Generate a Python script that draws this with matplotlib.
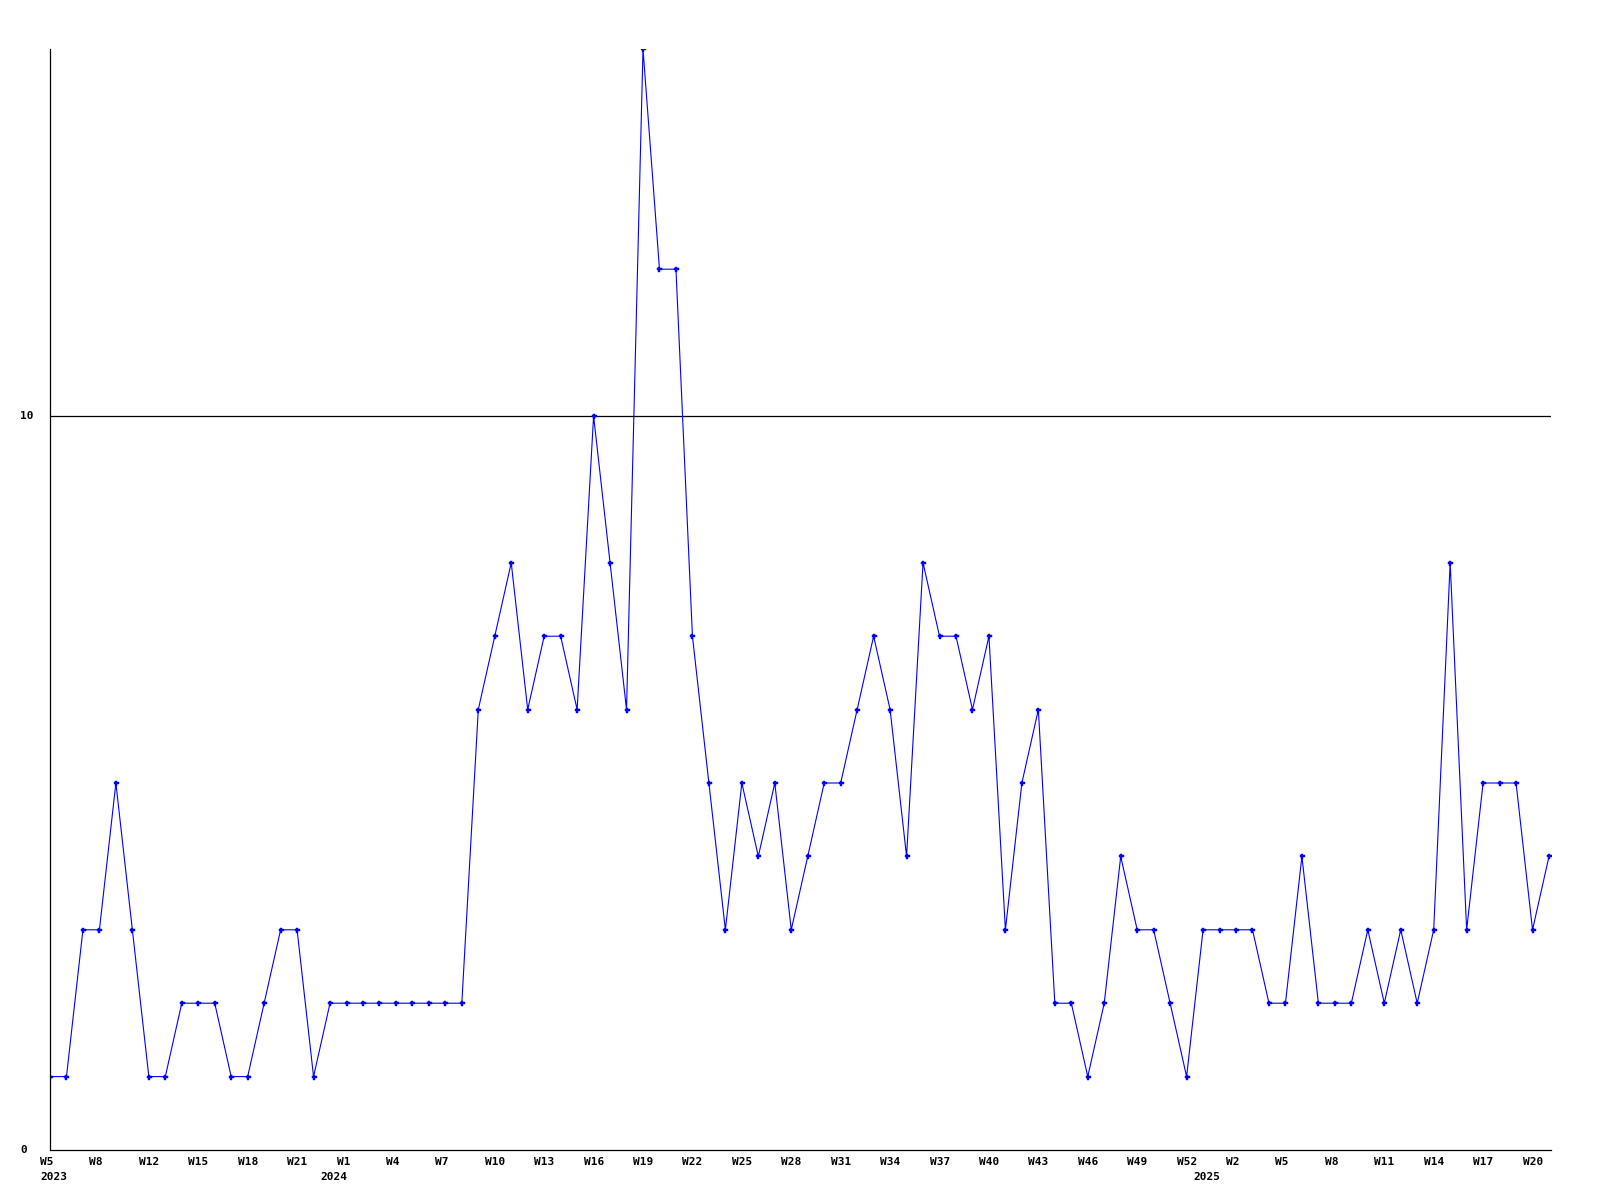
import matplotlib
matplotlib.use("Agg")
import matplotlib.pyplot as plt
import matplotlib.transforms as mtransforms

values = [1, 1, 3, 3, 5, 3, 1, 1, 2, 2, 2, 1, 1, 2, 3, 3, 1, 2, 2, 2,
          2, 2, 2, 2, 2, 2, 6, 7, 8, 6, 7, 7, 6, 10, 8, 6, 15, 12, 12, 7,
          5, 3, 5, 4, 5, 3, 4, 5, 5, 6, 7, 6, 4, 8, 7, 7, 6, 7, 3, 5,
          6, 2, 2, 1, 2, 4, 3, 3, 2, 1, 3, 3, 3, 3, 2, 2, 4, 2, 2, 2,
          3, 2, 3, 2, 3, 8, 3, 5, 5, 5, 3, 4]
week_labels = ["W5", "W8", "W12", "W15", "W18", "W21", "W1", "W4", "W7", "W10",
               "W13", "W16", "W19", "W22", "W25", "W28", "W31", "W34", "W37", "W40",
               "W43", "W46", "W49", "W52", "W2", "W5", "W8", "W11", "W14", "W17", "W20"]
week_positions = list(range(0, 91, 3))
year_labels = ["2023", "2024", "2025"]
year_positions = [0, 17, 70]
y_ticks = [0, 10]

W, H = 1600, 1200
fig = plt.figure(figsize=(16, 12), dpi=100)
ax = fig.add_axes([50 / W, 1 - 1150 / H, (1551 - 50) / W, (1150 - 49) / H])

x = list(range(len(values)))
ax.plot(x, values, color="#0000ff", linewidth=0.8, marker="P", markersize=3.6,
        markerfacecolor="#0000ff", markeredgecolor="#0000ff", markeredgewidth=0.3)

ax.set_xlim(0, (len(values) - 1) * 1501 / 1499)
ax.set_ylim(0, 15)

ax.axhline(10, color="black", linewidth=0.9, zorder=0)

for s in ["top", "right"]:
    ax.spines[s].set_visible(False)
for s in ["left", "bottom"]:
    ax.spines[s].set_linewidth(0.9)
    ax.spines[s].set_color("black")

ax.set_xticks([])
ax.set_yticks([])

font = dict(family="DejaVu Sans Mono", fontsize=8, fontweight="bold", color="black")

# y labels (left-aligned near the figure edge)
ytrans = mtransforms.blended_transform_factory(fig.transFigure, ax.transData)
for v in y_ticks:
    ax.text(20 / W, v, str(v), transform=ytrans, ha="left", va="center", clip_on=False, **font)

# week labels
off = mtransforms.ScaledTranslation(-10 / 100, 0, fig.dpi_scale_trans)
xtrans = mtransforms.blended_transform_factory(ax.transData, ax.transAxes) + off
for p, lab in zip(week_positions, week_labels):
    ax.text(p, -12 / 1101, lab, transform=xtrans, ha="left", va="center", clip_on=False, **font)
for p, lab in zip(year_positions, year_labels):
    ax.text(p, -27 / 1101, lab, transform=xtrans, ha="left", va="center", clip_on=False, **font)

fig.savefig("out.png", dpi=100, facecolor="white")
